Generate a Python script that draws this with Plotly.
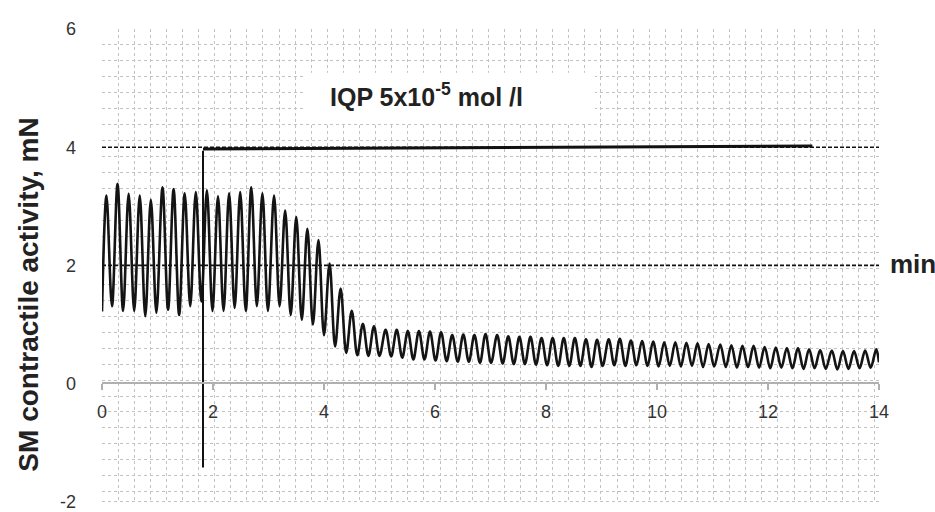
import plotly.graph_objects as go

# ---- data ----
start_t, start_v = 0.0, 1.22
end_t, end_v = 14.0, 0.36

peak_t = [0.08, 0.28, 0.48, 0.68, 0.88, 1.09, 1.29, 1.49, 1.69, 1.89,
          2.09, 2.29, 2.49, 2.69, 2.89, 3.10, 3.30, 3.50, 3.70, 3.90,
          4.10, 4.30, 4.50, 4.70, 4.90, 5.11, 5.31, 5.51, 5.71, 5.91,
          6.11, 6.31, 6.51, 6.71, 6.91, 7.12, 7.32, 7.52, 7.72, 7.92,
          8.12, 8.32, 8.52, 8.72, 8.92, 9.13, 9.33, 9.53, 9.73, 9.93,
          10.13, 10.33, 10.53, 10.73, 10.93, 11.14, 11.34, 11.54, 11.74, 11.94,
          12.14, 12.34, 12.54, 12.74, 12.94, 13.15, 13.35, 13.55, 13.75, 13.95]
peak_v = [3.18, 3.38, 3.21, 3.18, 3.11, 3.32, 3.29, 3.22, 3.24, 3.27,
          3.17, 3.22, 3.24, 3.32, 3.22, 3.18, 2.93, 2.82, 2.62, 2.43,
          2.03, 1.61, 1.23, 1.01, 0.97, 0.91, 0.91, 0.89, 0.89, 0.88,
          0.87, 0.82, 0.83, 0.82, 0.84, 0.82, 0.80, 0.79, 0.79, 0.77,
          0.77, 0.77, 0.77, 0.75, 0.74, 0.75, 0.76, 0.73, 0.72, 0.71,
          0.70, 0.70, 0.69, 0.68, 0.67, 0.66, 0.65, 0.64, 0.64, 0.62,
          0.61, 0.60, 0.60, 0.58, 0.57, 0.56, 0.55, 0.55, 0.56, 0.58]
trough_t = [0.18, 0.38, 0.58, 0.78, 0.98, 1.19, 1.39, 1.59, 1.79, 1.99,
            2.19, 2.39, 2.59, 2.79, 2.99, 3.20, 3.40, 3.60, 3.80, 4.00,
            4.20, 4.40, 4.60, 4.80, 5.00, 5.21, 5.41, 5.61, 5.81, 6.01,
            6.21, 6.41, 6.61, 6.81, 7.01, 7.22, 7.42, 7.62, 7.82, 8.02,
            8.22, 8.42, 8.62, 8.82, 9.02, 9.23, 9.43, 9.63, 9.83, 10.03,
            10.23, 10.43, 10.63, 10.83, 11.03, 11.24, 11.44, 11.64, 11.84, 12.04,
            12.24, 12.44, 12.64, 12.84, 13.04, 13.25, 13.45, 13.65, 13.85]
trough_v = [1.31, 1.23, 1.23, 1.14, 1.20, 1.25, 1.16, 1.31, 1.39, 1.23,
            1.23, 1.28, 1.23, 1.31, 1.23, 1.31, 1.16, 1.08, 1.00, 0.82,
            0.63, 0.52, 0.48, 0.47, 0.47, 0.46, 0.44, 0.41, 0.41, 0.39,
            0.38, 0.37, 0.37, 0.35, 0.35, 0.34, 0.33, 0.33, 0.32, 0.31,
            0.30, 0.30, 0.30, 0.28, 0.30, 0.31, 0.30, 0.31, 0.30, 0.29,
            0.30, 0.29, 0.30, 0.28, 0.29, 0.28, 0.27, 0.28, 0.27, 0.26,
            0.27, 0.26, 0.25, 0.26, 0.25, 0.24, 0.25, 0.26, 0.27]

drug_t = 1.82
drug_mark_y = [-1.42, 3.94]
plateau_t = [1.82, 12.8]
plateau_y = [3.97, 4.02]
ref_levels = [4, 2]

x_ticks = [0, 2, 4, 6, 8, 10, 12, 14]
y_ticks = [-2, 0, 2, 4, 6]
y_tick_labels = ["-2", "0", "2", "4", "6"]

# interleave extrema into one trace
t = [start_t]
v = [start_v]
for k in range(len(peak_t)):
    t.append(peak_t[k]); v.append(peak_v[k])
    if k < len(trough_t):
        t.append(trough_t[k]); v.append(trough_v[k])
t.append(end_t); v.append(end_v)

FONT = "Liberation Sans, Arial, sans-serif"

fig = go.Figure()

for lvl in ref_levels:
    fig.add_trace(go.Scatter(x=[x_ticks[0], x_ticks[-1]], y=[lvl, lvl], mode="lines",
                             line=dict(color="#111111", width=1.6, dash="4px,2px"),
                             hoverinfo="skip", showlegend=False))

fig.add_trace(go.Scatter(x=t, y=v, mode="lines",
                         line=dict(color="#141414", width=2.6, shape="spline", smoothing=1.0),
                         hoverinfo="skip", showlegend=False))

fig.add_trace(go.Scatter(x=[drug_t, drug_t], y=drug_mark_y, mode="lines",
                         line=dict(color="#111111", width=2), hoverinfo="skip", showlegend=False))
fig.add_trace(go.Scatter(x=plateau_t, y=plateau_y, mode="lines",
                         line=dict(color="#111111", width=3.2), hoverinfo="skip", showlegend=False))

fig.add_shape(type="rect", xref="x", yref="y", x0=3.66, x1=8.88, y0=4.41, y1=5.26,
              fillcolor="white", line=dict(width=0), layer="between")

fig.add_annotation(x=4.07, y=4.89, xref="x", yref="y", xanchor="left", yanchor="middle",
                   text="<b>IQP 5x10<sup>-5</sup> mol /l</b>", showarrow=False,
                   font=dict(family=FONT, size=25, color="#222222"))
fig.add_annotation(x=1.011, y=0.505, xref="paper", yref="paper", xanchor="left", yanchor="middle",
                   text="<b>min</b>", showarrow=False,
                   font=dict(family=FONT, size=26, color="#222222"))
fig.add_annotation(x=-0.095, y=0.44, xref="paper", yref="paper", xanchor="center", yanchor="middle",
                   text="<b>SM contractile activity, mN</b>", textangle=-90, showarrow=False,
                   font=dict(family=FONT, size=28, color="#222222"))

grid = dict(gridcolor="#c2c2c2", griddash="dot", gridwidth=1)

fig.update_layout(
    width=935, height=512,
    margin=dict(l=102, r=56, t=29, b=9, autoexpand=False),
    paper_bgcolor="white", plot_bgcolor="white",
    font=dict(family=FONT, size=18, color="#333333"),
    xaxis=dict(range=[0, 14], tickvals=x_ticks, showgrid=False, zeroline=False, automargin=False,
               minor=dict(dtick=0.29, tick0=0, showgrid=True, **grid),
               anchor="free", position=0.2525, showline=True, linecolor="#b0b0b0", linewidth=2,
               ticks="outside", ticklen=6, tickcolor="#b0b0b0", tickwidth=1.5,
               ticklabelstandoff=6, ticklabeloverflow="allow",
               tickfont=dict(size=18, color="#333333")),
    yaxis=dict(range=[-2.02, 6], tickvals=y_ticks, ticktext=y_tick_labels,
               showgrid=True, zeroline=False, automargin=False, **grid,
               minor=dict(dtick=0.27, tick0=6, showgrid=True, **grid),
               showline=False, ticks="", ticklabelstandoff=25, ticklabeloverflow="allow",
               tickfont=dict(size=18, color="#333333")),
    showlegend=False,
)

fig.write_html("out.html", config={"displayModeBar": False},
               post_script="document.body.style.margin='0';document.body.style.overflow='hidden';")
